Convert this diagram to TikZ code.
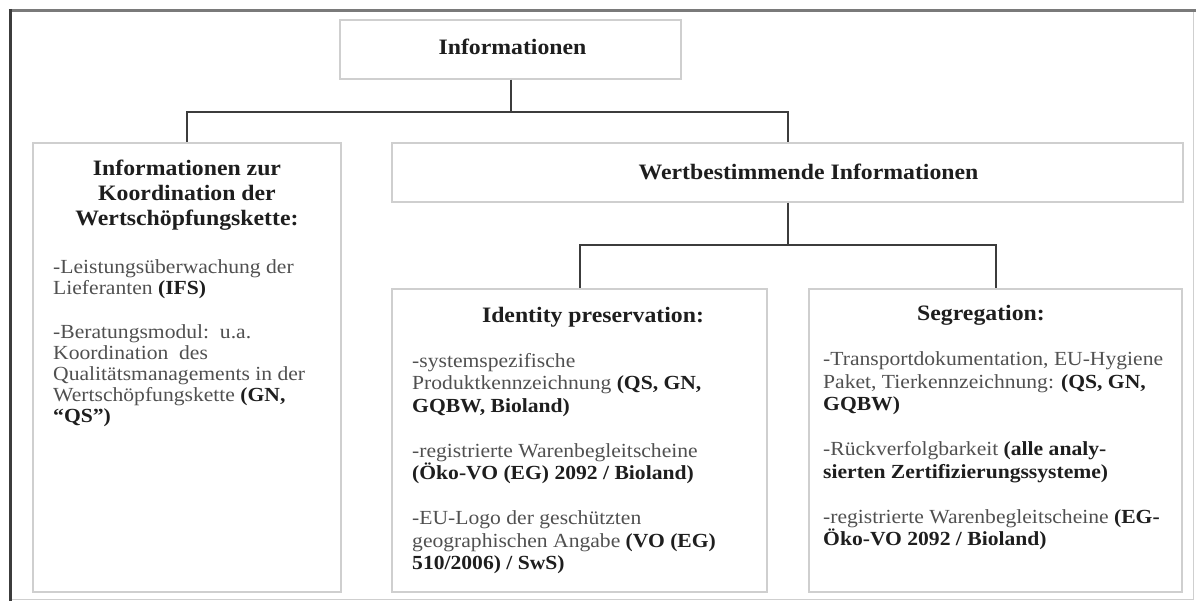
\documentclass[tikz,border=0pt]{standalone}
\usepackage{fontspec}
\setmainfont{Liberation Serif}[FakeStretch=1.08]
\usepackage{tikz}
\usetikzlibrary{positioning}

\definecolor{framegray}{HTML}{7A7A7A}
\definecolor{boxgray}{HTML}{CFCFCF}
\definecolor{linegray}{HTML}{3C3C3C}
\definecolor{txtgray}{HTML}{505050}
\definecolor{txtdark}{HTML}{1E1E1E}

\newcommand{\cert}[1]{{\bfseries\color{txtdark}#1}}

\tikzset{
	box/.style={draw=boxgray, line width=1.5pt, inner sep=0pt},
	conn/.style={draw=linegray, line width=2pt},
	headtxt/.style={inner sep=0pt, text=txtdark, font=\fontsize{22}{25}\selectfont\bfseries},
	bodytxt/.style={inner sep=0pt, align=left, text=txtgray, anchor=north west, font=\fontsize{20}{22.5}\selectfont}
}

\begin{document}
\begin{tikzpicture}[x=1pt, y=-1pt]
		\useasboundingbox (0,0) rectangle (1196,601);

		% frame
		\draw[boxgray, line width=1pt] (10,599) -- (1193,599) -- (1193,10);
		\draw[framegray, line width=3pt] (8.5,10.5) -- (1196,10.5);
		\draw[linegray, line width=3pt] (10,9) -- (10,601);

		% boxes
		\node[box, minimum width=341, minimum height=59] (info)  at (510.5,49.5)  {};
		\node[box, minimum width=308, minimum height=449] (koord) at (187,367.5) {};
		\node[box, minimum width=791, minimum height=59] (wert)  at (787.5,172.5) {};
		\node[box, minimum width=375, minimum height=303] (ident) at (579.5,440.5) {};
		\node[box, minimum width=373, minimum height=303] (segr)  at (995.5,440.5) {};

		% connectors
		\draw[conn] (info.south) -- ++(0,32) coordinate (fork1) -| (koord.north);
		\draw[conn] (fork1) -| (wert.north);
		\draw[conn] (wert.south) -- ++(0,42.5) coordinate (fork2) -| (ident.north);
		\draw[conn] (fork2) -| (segr.north);

		% headings
		\node[headtxt, anchor=base] (infotitle) at (512.5,54.3) {Informationen};
		\node[headtxt, anchor=base] (werttitle) at (808.5,179.3) {Wertbestimmende Informationen};
		\node[headtxt, anchor=north, align=center] (koordtitle) at (187,160) {Informationen zur\\Koordination der\\Wertschöpfungskette:};
		\node[headtxt, anchor=base] (identtitle) at (593,322.3) {Identity preservation:};
		\node[headtxt, anchor=base] (segrtitle) at (981,320.6) {Segregation:};

		% texts
		\node[bodytxt, font=\fontsize{20}{20.8}\selectfont] (koordtext) at (53,259.8) {-Leistungsüberwachung der\\Lieferanten \cert{(IFS)}\\[23.4pt]
			-Beratungsmodul:\ \ u.a.\\Koordination\ \ des\\Qualitätsmanagements in der\\Wertschöpfungskette \cert{(GN,}\\\cert{``QS'')}};
		\node[bodytxt] (identtext) at (412,352.8) {-systemspezifische\\Produktkennzeichnung \cert{(QS, GN,}\\\cert{GQBW, Bioland)}\\[22.5pt]
			-registrierte Warenbegleitscheine\\\cert{(Öko-VO (EG) 2092 / Bioland)}\\[22.5pt]
			-EU-Logo der geschützten\\geographischen Angabe \cert{(VO (EG)}\\\cert{510/2006) / SwS)}};
		\node[bodytxt] (segrtext) at (823,351.8) {-Transportdokumentation, EU-Hygiene\\Paket, Tierkennzeichnung: \cert{(QS, GN,}\\\cert{GQBW)}\\[22.5pt]
			-Rückverfolgbarkeit \cert{(alle analy-}\\\cert{sierten Zertifizierungssysteme)}\\[22.5pt]
			-registrierte Warenbegleitscheine \cert{(EG-}\\\cert{Öko-VO 2092 / Bioland)}};
	\end{tikzpicture}
\end{document}
